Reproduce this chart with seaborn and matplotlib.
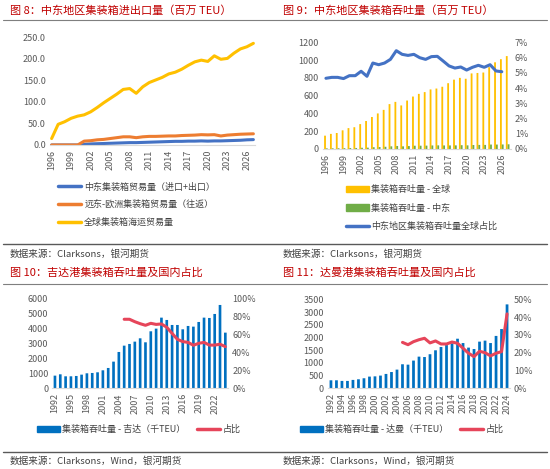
import matplotlib
matplotlib.use("Agg")
import matplotlib.pyplot as plt
import numpy as np
import pandas as pd
import seaborn as sns
from matplotlib.lines import Line2D
from matplotlib.patches import Patch
from matplotlib.ticker import FuncFormatter

# Fig 8: Middle East container import/export (million TEU)
years_trade = list(range(1996, 2028))
me_trade = [0, 0, 0, 0, 0, 1.5, 2.5, 3, 3.5, 4, 4.5, 5, 5.5, 5.5, 6, 6.5, 7, 7.5, 8, 8.5,
            8.5, 9, 9, 9.5, 9, 9.5, 9.5, 10, 10.5, 11, 12, 12.5]
fe_eu_trade = [0, 0, 0, 0, 0, 9, 10, 12, 13, 15, 17, 19, 19, 17, 19, 20, 20, 20.5, 21, 21,
               22, 22.5, 23, 24, 23.5, 24, 21, 23, 24, 25, 25.5, 26]
global_trade = [15, 48, 54, 62, 67, 70, 77, 87, 98, 108, 118, 129, 131, 120, 135, 145, 151, 157,
                165, 169, 176, 185, 193, 197, 194, 207, 199, 201, 213, 223, 228, 236]

# Fig 9: container throughput (million TEU) and Middle East share (%)
years_tp = list(range(1996, 2028))
global_tp = [150, 170, 180, 210, 235, 245, 280, 315, 360, 400, 440, 505, 530, 490, 545, 590,
             620, 640, 670, 680, 700, 740, 780, 800, 790, 850, 855, 860, 920, 975, 1010, 1045]
me_tp = [7, 8, 8.5, 9.5, 11, 11.5, 14, 15, 20, 22, 25, 30, 34, 30, 33, 37, 37, 38, 40, 41,
         40, 40, 41, 43, 41, 45, 46, 46, 50, 50, 51, 53]
years_share = list(range(1996, 2027))
me_share = [4.64, 4.70, 4.70, 4.62, 4.81, 4.81, 5.10, 4.77, 5.64, 5.53, 5.64, 5.88, 6.45, 6.21,
            6.14, 6.21, 5.99, 5.88, 6.06, 6.08, 5.77, 5.45, 5.31, 5.38, 5.18, 5.36, 5.49, 5.36,
            5.53, 5.12, 5.07]

# Fig 10 / 11: Jeddah and Dammam throughput (thousand TEU) and national share (%)
years_port = list(range(1992, 2025))
jeddah = [844, 933, 800, 800, 822, 911, 1000, 1022, 1067, 1200, 1356, 1778, 2422, 2844, 2956,
          3111, 3333, 3067, 3800, 3978, 4711, 4556, 4222, 4222, 3933, 4156, 4111, 4422, 4711,
          4689, 4956, 5556, 3711]
dammam = [315, 315, 290, 290, 330, 355, 395, 460, 470, 500, 565, 640, 735, 945, 930, 1090,
          1245, 1230, 1340, 1495, 1625, 1700, 1770, 1950, 1780, 1600, 1545, 1835, 1875, 1780,
          2060, 2330, 3300]
years_port_share = list(range(2005, 2025))
jeddah_share = [76.7, 76.7, 74, 71.8, 70, 72.2, 71, 71.5, 67.8, 61, 54.4, 51.9, 51, 47.8, 50,
                51, 48, 48, 49, 46.3]
dammam_share = [25.8, 24.5, 26.2, 27.3, 28.1, 25.5, 26.6, 24.9, 24.9, 26, 25.3, 22.5, 19.7,
                17.8, 20.8, 20, 18.2, 19.7, 20.6, 41.8]

sns.set_theme(style="white")
plt.rcParams['font.family'] = ['Noto Sans CJK SC', 'DejaVu Sans']

W, H = 550, 469
TICK = '#595959'
TXT = '#404040'
RED_T = '#C00000'
YEL, ORA, BLU, GRN = '#FFC000', '#ED7D31', '#4472C4', '#70AD47'
BAR_B, LINE_R = '#0070C0', '#E6455A'
FS = 6.5

fig = plt.figure(figsize=(W / 100, H / 100), dpi=100)


def rect(x0, y0, x1, y1):
    return [x0 / W, 1 - y1 / H, (x1 - x0) / W, (y1 - y0) / H]


def style_ax(ax, xticks):
    for s in ['top', 'left', 'right']:
        ax.spines[s].set_visible(False)
    ax.spines['bottom'].set_color('#D9D9D9')
    ax.spines['bottom'].set_linewidth(0.8)
    ax.set_xticks(xticks)
    ax.set_xticklabels([str(t) for t in xticks], rotation=90)
    ax.tick_params(axis='x', labelsize=FS, colors=TICK, length=2, width=0.6, pad=1.5,
                   color='#D9D9D9')
    ax.tick_params(axis='y', labelsize=FS, colors=TICK, length=0, pad=3)
    ax.set_xlabel('')
    ax.set_ylabel('')
    # thin bars vanish when snapped to the pixel grid
    for p in ax.patches:
        p.set_snap(False)
        p.set_linewidth(0)


def style_twin(ax, top, step):
    for s in ax.spines.values():
        s.set_visible(False)
    ax.set_ylim(0, top)
    ax.set_yticks(np.arange(0, top + 1e-9, step))
    ax.yaxis.set_major_formatter(FuncFormatter(lambda v, p: f"{v:.0f}%"))
    ax.tick_params(axis='y', labelsize=FS, colors=TICK, length=0, pad=3)
    ax.set_ylabel('')


def legend(ax, handles, labels, x, y, ncol=1, hl=2.6, spacing=0.75, colsp=1.2):
    ax.legend(handles, labels, loc='upper left', bbox_to_anchor=(x / W, 1 - y / H),
              bbox_transform=fig.transFigure, frameon=False, ncol=ncol, fontsize=FS,
              handlelength=hl, handletextpad=0.3, labelspacing=spacing, borderpad=0,
              borderaxespad=0, columnspacing=colsp, labelcolor=TXT)


# ---- Fig 8
ax1 = fig.add_axes(rect(50, 37.3, 255, 145))
sns.lineplot(x=years_trade, y=me_trade, color=BLU, linewidth=2.2, ax=ax1)
sns.lineplot(x=years_trade, y=fe_eu_trade, color=ORA, linewidth=2.2, ax=ax1)
sns.lineplot(x=years_trade, y=global_trade, color=YEL, linewidth=2.2, ax=ax1)
ax1.set_xlim(1995.75, 2027.25)
ax1.set_ylim(0, 250)
ax1.set_yticks(range(0, 251, 50))
ax1.yaxis.set_major_formatter(FuncFormatter(lambda v, p: f"{v:.1f}"))
style_ax(ax1, list(range(1996, 2027, 3)))
legend(ax1,
       [Line2D([], [], color=c, lw=2.5) for c in (BLU, ORA, YEL)],
       ['中东集装箱贸易量（进口+出口）', '远东-欧洲集装箱贸易量（往返）', '全球集装箱海运贸易量'],
       58, 182.5, spacing=0.95)

# ---- Fig 9
ax2 = fig.add_axes(rect(323, 42.3, 510.6, 149))
df_tp = pd.DataFrame({
    'year': years_tp * 2,
    'value': global_tp + me_tp,
    'series': ['集装箱吞吐量 - 全球'] * len(years_tp) + ['集装箱吞吐量 - 中东'] * len(years_tp),
})
sns.barplot(data=df_tp, x='year', y='value', hue='series', palette=[YEL, GRN],
            native_scale=True, width=0.62, saturation=1, legend=False, ax=ax2)
ax2.set_xlim(1995.5, 2027.5)
ax2.set_ylim(0, 1200)
ax2.set_yticks(range(0, 1201, 200))
style_ax(ax2, list(range(1996, 2027, 3)))
ax2b = ax2.twinx()
sns.lineplot(x=years_share, y=me_share, color=BLU, linewidth=2.2, ax=ax2b)
style_twin(ax2b, 7, 1)
legend(ax2,
       [Patch(color=YEL), Patch(color=GRN), Line2D([], [], color=BLU, lw=2.5)],
       ['集装箱吞吐量 - 全球', '集装箱吞吐量 - 中东', '中东地区集装箱吞吐量全球占比'],
       346, 185, hl=2.5, spacing=1.05)

# ---- Fig 10
ax3 = fig.add_axes(rect(52.3, 298.3, 228, 388.3))
sns.barplot(x=years_port, y=jeddah, color=BAR_B, native_scale=True, width=0.5,
            saturation=1, ax=ax3)
ax3.set_xlim(1991.5, 2024.5)
ax3.set_ylim(0, 6000)
ax3.set_yticks(range(0, 6001, 1000))
style_ax(ax3, list(range(1992, 2023, 3)))
ax3b = ax3.twinx()
sns.lineplot(x=years_port_share, y=jeddah_share, color=LINE_R, linewidth=2.2, ax=ax3b)
style_twin(ax3b, 100, 20)
legend(ax3, [Patch(color=BAR_B), Line2D([], [], color=LINE_R, lw=2.5)],
       ['集装箱吞吐量 - 吉达（千TEU）', '占比'], 37, 425, ncol=2, hl=2.5, colsp=1.3)

# ---- Fig 11
ax4 = fig.add_axes(rect(328.2, 299.3, 509.8, 388.3))
sns.barplot(x=years_port, y=dammam, color=BAR_B, native_scale=True, width=0.5,
            saturation=1, ax=ax4)
ax4.set_xlim(1991.5, 2024.5)
ax4.set_ylim(0, 3500)
ax4.set_yticks(range(0, 3501, 500))
style_ax(ax4, list(range(1992, 2025, 2)))
ax4b = ax4.twinx()
sns.lineplot(x=years_port_share, y=dammam_share, color=LINE_R, linewidth=2.2, ax=ax4b)
style_twin(ax4b, 50, 10)
legend(ax4, [Patch(color=BAR_B), Line2D([], [], color=LINE_R, lw=2.5)],
       ['集装箱吞吐量 - 达曼（千TEU）', '占比'], 300, 425, ncol=2, hl=2.5, colsp=1.3)

# ---- titles, sources and rules
def ftext(x, y, s, color, size):
    fig.text(x / W, 1 - y / H, s, color=color, fontsize=size, ha='left', va='center')


ftext(10, 11, '图 8：中东地区集装箱进出口量（百万 TEU）', RED_T, 8)
ftext(283, 11, '图 9：中东地区集装箱吞吐量（百万 TEU）', RED_T, 8)
ftext(10, 254, '数据来源：Clarksons，银河期货', TXT, 6.9)
ftext(283, 254, '数据来源：Clarksons，银河期货', TXT, 6.9)
ftext(10, 273, '图 10：吉达港集装箱吞吐量及国内占比', RED_T, 8)
ftext(283, 273, '图 11：达曼港集装箱吞吐量及国内占比', RED_T, 8)
ftext(10, 461, '数据来源：Clarksons，Wind，银河期货', TXT, 6.9)
ftext(283, 461, '数据来源：Clarksons，Wind，银河期货', TXT, 6.9)

for yy, c, lw in [(20.5, '#7F7F7F', 0.8), (244.3, '#595959', 1.0),
                  (283.5, '#7F7F7F', 0.8), (451.7, '#595959', 1.0)]:
    fig.add_artist(Line2D([3 / W, 547 / W], [1 - yy / H, 1 - yy / H], color=c, lw=lw))

fig.savefig('out.png', dpi=100)
